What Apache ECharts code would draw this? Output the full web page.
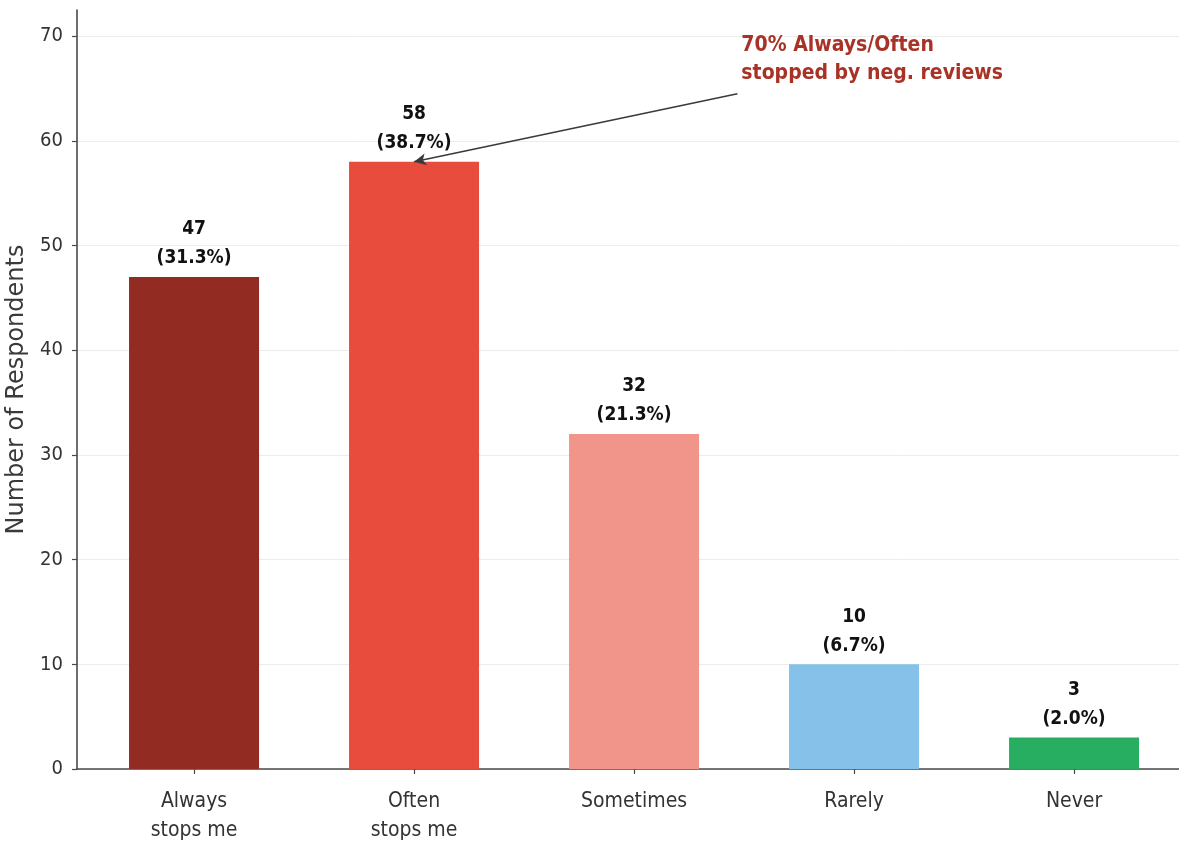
<!DOCTYPE html>
<html>
<head>
<meta charset="utf-8">
<title>Negative reviews survey</title>
<script src="https://cdn.jsdelivr.net/npm/echarts@6/dist/echarts.min.js"></script>
<style>
  html, body { margin: 0; padding: 0; background: #ffffff; }
  #chart { width: 1179px; height: 843px; }
</style>
</head>
<body>
<div id="chart"></div>
<script>
// Survey answers: how often negative reviews stop a purchase
const categories = ['Always\nstops me', 'Often\nstops me', 'Sometimes', 'Rarely', 'Never'];
const counts = [47, 58, 32, 10, 3];
const shares = ['31.3%', '38.7%', '21.3%', '6.7%', '2.0%'];
const barColors = ['#922B21', '#E74C3C', '#F1948A', '#85C1E9', '#27AE60'];
const yTicks = [0, 10, 20, 30, 40, 50, 60, 70];

// Callout pointing at the "Often" bar
const calloutText = '70% Always/Often\nstopped by neg. reviews';
const calloutAt = [2.49, 65];
const arrowFrom = [2.47, 64.5];
const arrowTo = [1, 58];

const condensed = '"DejaVu Sans Condensed", "DejaVu Sans", sans-serif';

const chart = echarts.init(document.getElementById('chart'), null, { renderer: 'canvas' });

chart.setOption({
  animation: false,
  backgroundColor: '#ffffff',
  grid: { left: 77, right: 0, top: 10, bottom: 74, containLabel: false, outerBoundsMode: 'none' },
  xAxis: {
    type: 'value',
    min: -0.532,
    max: 4.477,
    splitLine: { show: false },
    axisLine: { show: true, onZero: false, lineStyle: { color: '#4a4a4a', width: 1.6 } },
    axisTick: { show: true, customValues: [0, 1, 2, 3, 4], length: 5, lineStyle: { color: '#4a4a4a', width: 1.2 } },
    axisLabel: {
      customValues: [0, 1, 2, 3, 4],
      formatter: v => categories[Math.round(v)],
      fontFamily: condensed,
      fontSize: 21,
      lineHeight: 29,
      color: '#333333',
      margin: 18
    }
  },
  yAxis: {
    type: 'value',
    min: 0,
    max: 72.5,
    interval: 10,
    name: 'Number of Respondents',
    nameLocation: 'middle',
    nameGap: 44,
    nameTextStyle: { fontFamily: '"DejaVu Sans", sans-serif', fontSize: 24, color: '#3a3a3a' },
    axisLine: { show: true, onZero: false, lineStyle: { color: '#4a4a4a', width: 1.6 } },
    axisTick: { show: true, customValues: yTicks, length: 5, lineStyle: { color: '#4a4a4a', width: 1.2 } },
    axisLabel: {
      customValues: yTicks,
      fontFamily: condensed,
      fontSize: 20,
      color: '#333333',
      margin: 14
    },
    splitLine: { show: true, lineStyle: { color: '#ececec', width: 1 } }
  },
  series: [{
    type: 'bar',
    barWidth: 130,
    data: counts.map((v, i) => ({ value: [i, v], itemStyle: { color: barColors[i] } })),
    label: {
      show: true,
      position: 'top',
      distance: 4,
      formatter: p => counts[p.dataIndex] + '\n(' + shares[p.dataIndex] + ')',
      fontFamily: condensed,
      fontWeight: 'bold',
      fontSize: 19,
      lineHeight: 29,
      color: '#111111'
    },
    markLine: {
      silent: true,
      symbol: ['none', 'arrow'],
      symbolSize: [9, 12],
      label: { show: false },
      lineStyle: { color: '#3a3a3a', width: 1.6, type: 'solid' },
      data: [[{ coord: arrowFrom }, { coord: arrowTo }]]
    },
    markPoint: {
      silent: true,
      symbol: 'circle',
      symbolSize: 1,
      itemStyle: { color: 'rgba(0,0,0,0)' },
      label: {
        show: true,
        position: [0, 0],
        align: 'left',
        verticalAlign: 'bottom',
        formatter: calloutText,
        fontFamily: condensed,
        fontWeight: 'bold',
        fontSize: 21,
        lineHeight: 28,
        color: '#A93226'
      },
      data: [{ coord: calloutAt }]
    }
  }]
});
</script>
</body>
</html>
